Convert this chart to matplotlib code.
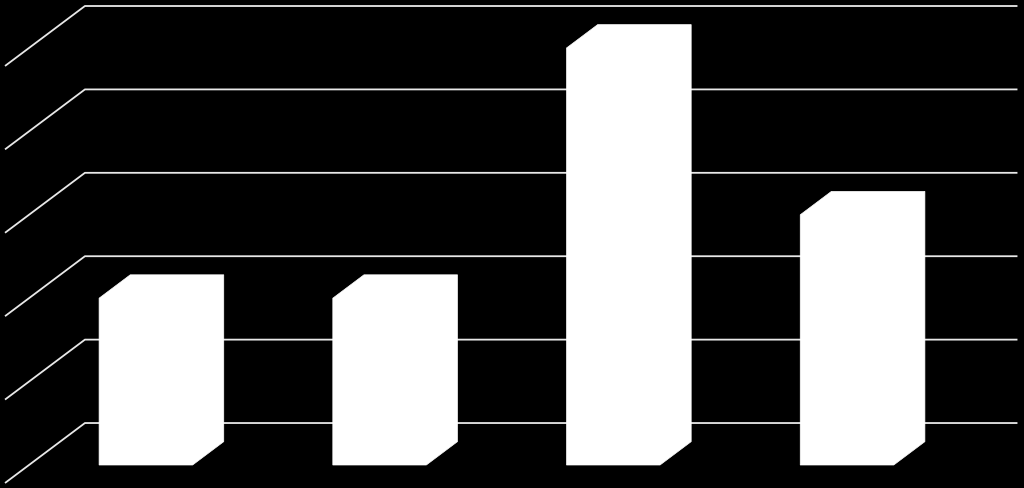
import matplotlib
matplotlib.use("Agg")
import matplotlib.pyplot as plt
from matplotlib.patches import Polygon

# Data
categories = ["A", "B", "C", "D"]
values = [2, 2, 5, 3]
y_ticks = [0, 1, 2, 3, 4, 5]

# Oblique 3D projection parameters (data units)
DX, DY = 0.342, 0.719        # full depth vector of the plot box
F_DEPTH, B_DEPTH = 0.30, 0.69  # bar front/back depth fractions
BAR_W = 0.40
N = len(categories)

fig = plt.figure(figsize=(10.24, 4.89), dpi=100, facecolor="black")
ax = fig.add_axes([0, 0, 1, 1])
ax.set_facecolor("black")
ax.set_xlim(-0.0214, 4.360)
ax.set_ylim(-0.06, 5.803)
ax.axis("off")

# Gridlines: diagonal on the side wall plus horizontal on the back wall
for v in y_ticks:
    ax.plot([0, DX, N + DX - 0.01], [v, v + DY, v + DY], color="#e8e8e8", lw=1.3,
            solid_capstyle="butt", zorder=1)

# Bars
for i, v in enumerate(values):
    xl = i + 0.5 - BAR_W / 2
    xr = i + 0.5 + BAR_W / 2
    fx, fy = F_DEPTH * DX, F_DEPTH * DY
    bx, by = B_DEPTH * DX, B_DEPTH * DY
    pts = [
        (xl + fx, fy),
        (xl + fx, v + fy),
        (xl + bx, v + by),
        (xr + bx, v + by),
        (xr + bx, by),
        (xr + fx, fy),
    ]
    ax.add_patch(Polygon(pts, closed=True, facecolor="white", edgecolor="white",
                         lw=0.5, zorder=3))

fig.savefig("out.png", dpi=100, facecolor="black")
